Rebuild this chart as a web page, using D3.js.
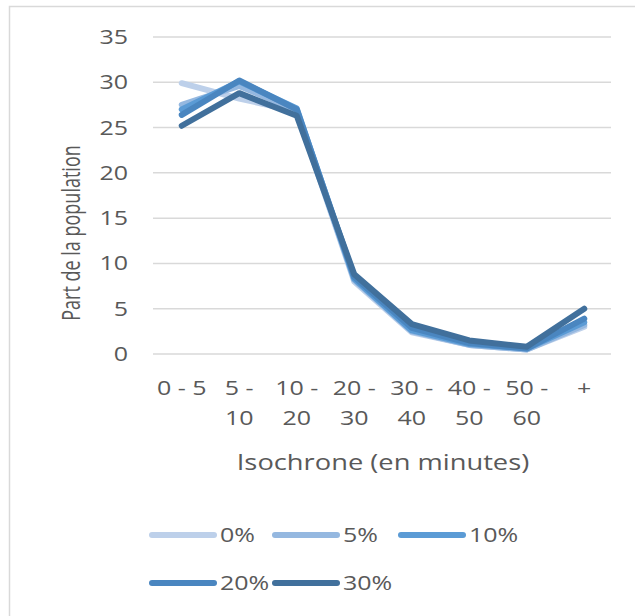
<!DOCTYPE html>
<html><head><meta charset="utf-8">
<script src="https://cdn.jsdelivr.net/npm/d3@7"></script>
<style>html,body{margin:0;padding:0;background:#fff;}svg{display:block;}</style>
</head><body>
<svg id="chart" width="635" height="616"></svg>
<script>
const categories = [["0 - 5"], ["5 -", "10"], ["10 -", "20"], ["20 -", "30"], ["30 -", "40"], ["40 -", "50"], ["50 -", "60"], ["+"]];
const seriesNames = ["0%", "5%", "10%", "20%", "30%"];
const s0 = [29.9, 28.2, 26.8, 8.0, 2.4, 1.0, 0.5, 3.0];
const s5 = [27.5, 29.6, 26.9, 8.2, 2.5, 1.0, 0.5, 3.2];
const s10 = [27.0, 30.1, 27.1, 8.3, 2.6, 1.1, 0.6, 3.5];
const s20 = [26.4, 30.2, 27.0, 8.5, 2.9, 1.2, 0.6, 3.9];
const s30 = [25.2, 28.8, 26.3, 8.8, 3.3, 1.5, 0.8, 5.0];
const yTicks = [0, 5, 10, 15, 20, 25, 30, 35];
const colors = ["#bdd0ea", "#95b8e0", "#5b9bd5", "#4a86c0", "#41709c"];
const yTitle = "Part de la population";
const xTitle = "Isochrone (en minutes)";

const series = [s0, s5, s10, s20, s30];
const svg = d3.select("#chart");
const font = "'Open Sans', sans-serif";
const txt = "#595959";
const SX = 1.25;
const FS = 20;

svg.append("rect").attr("x", 9.5).attr("y", 6.5).attr("width", 700).attr("height", 700)
  .attr("fill", "#fff").attr("stroke", "#d9d9d9").attr("stroke-width", 1.5);

const keys = categories.map((c, i) => i);
const x = d3.scaleBand().domain(keys).range([153, 613]);
const y = d3.scaleLinear().domain([0, 35]).range([354, 37]);

// gridlines
svg.append("g").selectAll("line").data(yTicks).join("line")
  .attr("x1", 153).attr("x2", 611)
  .attr("y1", d => y(d)).attr("y2", d => y(d))
  .attr("stroke", "#d9d9d9").attr("stroke-width", 1.5);

// y tick labels
svg.append("g").selectAll("g").data(yTicks).join("g")
  .attr("transform", d => `translate(128,${y(d)}) scale(${SX},1)`)
  .append("text").attr("text-anchor", "end").attr("dy", "0.35em")
  .attr("font-family", font).attr("font-size", FS).attr("fill", txt)
  .text(d => d);

// x labels
const xl = svg.append("g").selectAll("g").data(categories).join("g")
  .attr("transform", (d, i) => `translate(${x(i) + x.bandwidth() / 2},0) scale(${SX},1)`);
xl.each(function (d) {
  const g = d3.select(this);
  d.forEach((line, j) => {
    g.append("text").attr("x", 0).attr("y", 395 + j * 30)
      .attr("text-anchor", "middle").attr("font-family", font).attr("font-size", FS)
      .attr("fill", txt).attr("xml:space", "preserve").text(line);
  });
});

// axis titles
svg.append("g").attr("transform", `translate(383,470) scale(1.3,1)`)
  .append("text").attr("text-anchor", "middle").attr("font-family", font)
  .attr("font-size", 21).attr("fill", txt).text(xTitle);
svg.append("g").attr("transform", `translate(80,233) scale(1.45,1) rotate(-90)`)
  .append("text").attr("text-anchor", "middle").attr("font-family", font)
  .attr("font-size", 18).attr("fill", txt).text(yTitle);

// lines
const line = d3.line().x((d, i) => x(i) + x.bandwidth() / 2).y(d => y(d));
svg.append("g").selectAll("path").data(series).join("path")
  .attr("d", d => line(d)).attr("fill", "none")
  .attr("stroke", (d, i) => colors[i]).attr("stroke-width", 6)
  .attr("stroke-linecap", "round").attr("stroke-linejoin", "round");

// legend
const legPos = [[150, 535], [273, 535], [399, 535], [150, 583], [273, 583]];
const lg = svg.append("g").selectAll("g").data(seriesNames).join("g")
  .attr("transform", (d, i) => `translate(${legPos[i][0]},${legPos[i][1]})`);
lg.append("line").attr("x1", 2).attr("x2", 64).attr("y1", 0).attr("y2", 0)
  .attr("stroke", (d, i) => colors[i]).attr("stroke-width", 6).attr("stroke-linecap", "round");
lg.append("g").attr("transform", `translate(70,0) scale(${SX},1)`)
  .append("text").attr("dy", "0.35em").attr("font-family", font).attr("font-size", FS)
  .attr("fill", txt).text(d => d);
</script>
</body></html>
